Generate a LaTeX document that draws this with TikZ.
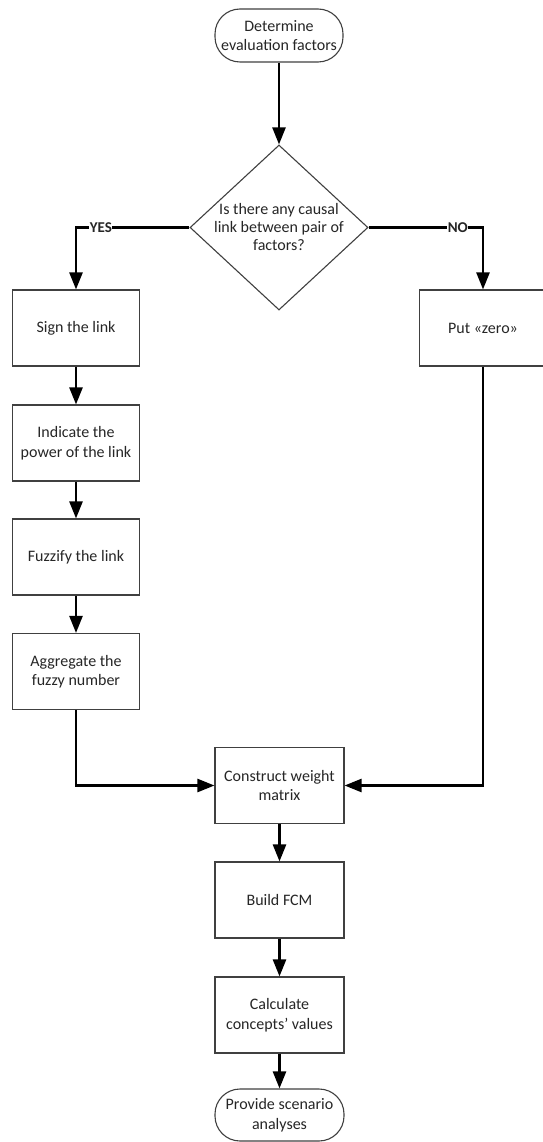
\documentclass[tikz,border=0pt]{standalone}
\usepackage{fontspec}
\setmainfont{Carlito}
\usetikzlibrary{shapes.geometric,arrows.meta}
\begin{document}
\begin{tikzpicture}[x=1pt,y=-1pt,
 shp/.style={draw=black!75, line width=1.1pt, fill=white, align=center, font=\fontsize{16}{19.5}\selectfont, text=black!85, inner sep=0pt},
 stepbox/.style={shp, rectangle, minimum width=127pt, minimum height=76pt},
 term/.style={shp, rectangle, rounded corners=25pt, minimum width=129pt, minimum height=52pt},
 conn/.style={line width=2.4pt, -{Triangle[length=17pt,width=13pt]}},
 lbl/.style={fill=white, font=\bfseries\fontsize{15}{17}\selectfont, inner sep=0.5pt, text=black!85}]
\useasboundingbox (0,0) rectangle (542,1142);

\node[term, minimum width=128pt, minimum height=53pt] (start) at (279,35.5) {Determine\\evaluation factors};
\node[shp, diamond, minimum width=178pt, minimum height=165pt] (q) at (279,227.5) {};
\node[align=center, font=\fontsize{16}{18}\selectfont, text=black!85] (qt) at (q) {Is there any causal\\link between pair of\\factors?};

\node[stepbox] (sign) at (76,328) {Sign the link};
\node[stepbox] (ind) at (76,443) {Indicate the\\power of the link};
\node[stepbox] (fuzz) at (76,557) {Fuzzify the link};
\node[stepbox] (agg) at (76,671.5) {Aggregate the\\fuzzy number};
\node[stepbox] (zero) at (483,328) {Put «zero»};

\node[stepbox, minimum width=129pt] (cw) at (279.5,785.5) {Construct weight\\matrix};
\node[stepbox, minimum width=129pt] (fcm) at (279.5,900) {Build FCM};
\node[stepbox, minimum width=129pt] (calc) at (279.5,1015) {Calculate\\concepts’ values};
\node[term] (stop) at (279.5,1115) {Provide scenario\\analyses};

\draw[conn] (start) -- (q.north);
\draw[conn] (q.west) -| node[lbl, pos=0.39] {YES} (sign.north);
\draw[conn] (q.east) -| node[lbl, pos=0.39] {NO} (zero.north);
\draw[conn] (sign) -- (ind);
\draw[conn] (ind) -- (fuzz);
\draw[conn] (fuzz) -- (agg);
\draw[conn] (agg.south) |- (cw.west);
\draw[conn] (zero.south) |- (cw.east);
\draw[conn] (cw) -- (fcm);
\draw[conn] (fcm) -- (calc);
\draw[conn] (calc) -- (stop);
\end{tikzpicture}
\end{document}
